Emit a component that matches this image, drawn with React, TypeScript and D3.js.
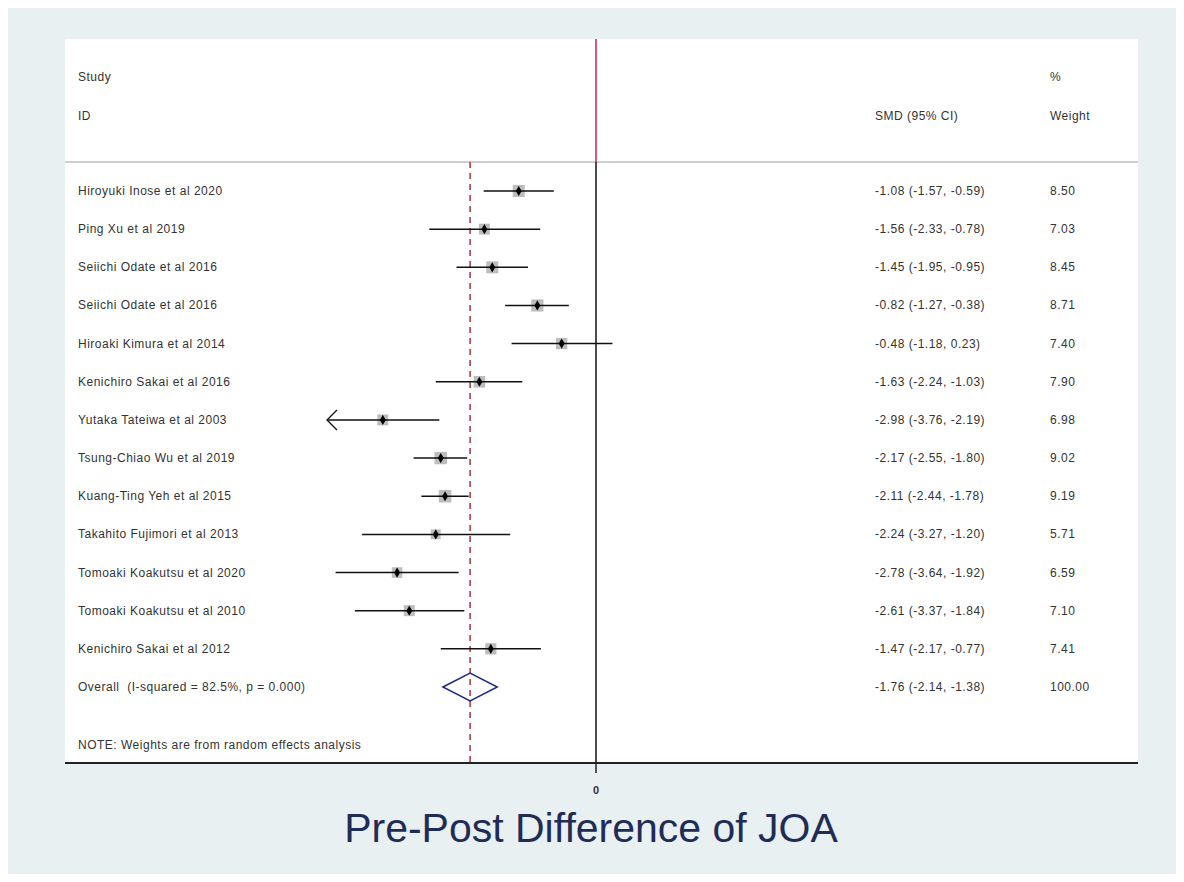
import * as d3 from "d3";
import { useEffect, useRef } from "react";

// study rows
const studies = [
  "Hiroyuki Inose et al 2020",
  "Ping Xu et al 2019",
  "Seiichi Odate et al 2016",
  "Seiichi Odate et al 2016",
  "Hiroaki Kimura et al 2014",
  "Kenichiro Sakai et al 2016",
  "Yutaka Tateiwa et al 2003",
  "Tsung-Chiao Wu et al 2019",
  "Kuang-Ting Yeh et al 2015",
  "Takahito Fujimori et al 2013",
  "Tomoaki Koakutsu et al 2020",
  "Tomoaki Koakutsu et al 2010",
  "Kenichiro Sakai et al 2012",
];
const smd = [-1.08, -1.56, -1.45, -0.82, -0.48, -1.63, -2.98, -2.17, -2.11, -2.24, -2.78, -2.61, -1.47];
const lower = [-1.57, -2.33, -1.95, -1.27, -1.18, -2.24, -3.76, -2.55, -2.44, -3.27, -3.64, -3.37, -2.17];
const upper = [-0.59, -0.78, -0.95, -0.38, 0.23, -1.03, -2.19, -1.8, -1.78, -1.2, -1.92, -1.84, -0.77];
const weights = [8.5, 7.03, 8.45, 8.71, 7.4, 7.9, 6.98, 9.02, 9.19, 5.71, 6.59, 7.1, 7.41];

const overallLabel = "Overall  (I-squared = 82.5%, p = 0.000)";
const overall = { est: -1.76, lo: -2.14, hi: -1.38, weight: "100.00" };
const xTicks = [0];
const xDomain = [-3.76, 3.76];

// plain hyphen minus, like Stata
const fmt = (v) => v.toFixed(2);

const App = () => {
  const svgRef = useRef(null);

  useEffect(() => {
    const W = 1168;
    const H = 866;
    const svg = d3.select(svgRef.current).attr("width", W).attr("height", H);
    svg.selectAll("*").remove();

    // page coords (body margin is 8px)
    const root = svg.append("g").attr("transform", "translate(-8,-8)");
    const font = "'Liberation Sans', Arial, sans-serif";
    const txt = "#333";
    const fs = "12px";
    const ls = "0.5px";

    // outer background + plot region
    root.append("rect").attr("x", 8).attr("y", 8).attr("width", 1168).attr("height", 868).attr("fill", "#e8f0f2");
    const plot = { left: 65, right: 1138, top: 39, bottom: 763 };
    root
      .append("rect")
      .attr("x", plot.left)
      .attr("y", plot.top)
      .attr("width", plot.right - plot.left)
      .attr("height", plot.bottom - plot.top)
      .attr("fill", "#fff");

    const x = d3.scaleLinear().domain(xDomain).range([327, 865]);
    const y = d3.scaleLinear().domain([0, studies.length]).range([191, 687]);
    const headerLine = 162;

    const addText = (sel) =>
      sel
        .attr("font-family", font)
        .attr("font-size", fs)
        .attr("letter-spacing", ls)
        .attr("fill", txt);

    // header
    const header = [
      { t: "Study", x: 78, y: 77 },
      { t: "ID", x: 78, y: 116 },
      { t: "SMD (95% CI)", x: 875, y: 116 },
      { t: "%", x: 1050, y: 77 },
      { t: "Weight", x: 1050, y: 116 },
    ];
    addText(
      root
        .selectAll("text.head")
        .data(header)
        .join("text")
        .attr("class", "head")
        .attr("x", (d) => d.x)
        .attr("y", (d) => d.y + 4)
    ).text((d) => d.t);

    root
      .append("line")
      .attr("x1", plot.left)
      .attr("x2", plot.right)
      .attr("y1", headerLine)
      .attr("y2", headerLine)
      .attr("stroke", "#cfcfcf")
      .attr("stroke-width", 2);

    // zero line: red above the header line, black below
    root
      .append("line")
      .attr("x1", x(0))
      .attr("x2", x(0))
      .attr("y1", plot.top)
      .attr("y2", headerLine)
      .attr("stroke", "#d6204a")
      .attr("stroke-width", 1.5);
    root
      .append("line")
      .attr("x1", x(0))
      .attr("x2", x(0))
      .attr("y1", headerLine)
      .attr("y2", plot.bottom)
      .attr("stroke", "#111")
      .attr("stroke-width", 1.5);

    // overall dashed line
    root
      .append("line")
      .attr("x1", x(overall.est))
      .attr("x2", x(overall.est))
      .attr("y1", headerLine)
      .attr("y2", plot.bottom)
      .attr("stroke", "#a83240")
      .attr("stroke-width", 1.5)
      .attr("stroke-dasharray", "6,5");

    const rows = studies.map((s, i) => ({
      s,
      i,
      est: smd[i],
      lo: lower[i],
      hi: upper[i],
      w: weights[i],
    }));

    // study labels and stats
    const label = (cls, fx, ft) =>
      addText(
        root
          .selectAll("text." + cls)
          .data(rows)
          .join("text")
          .attr("class", cls)
          .attr("x", fx)
          .attr("y", (d) => y(d.i) + 4)
      ).text(ft);
    label("name", 78, (d) => d.s);
    label("ci", 875, (d) => `${fmt(d.est)} (${fmt(d.lo)}, ${fmt(d.hi)})`);
    label("wt", 1050, (d) => fmt(d.w));

    // weight boxes
    const boxSide = (w) => 4.12 * Math.sqrt(w);
    root
      .selectAll("rect.box")
      .data(rows)
      .join("rect")
      .attr("class", "box")
      .attr("x", (d) => x(d.est) - boxSide(d.w) / 2)
      .attr("y", (d) => y(d.i) - boxSide(d.w) / 2)
      .attr("width", (d) => boxSide(d.w))
      .attr("height", (d) => boxSide(d.w))
      .attr("fill", "#bdbdbd");

    // CI lines
    root
      .selectAll("line.ci")
      .data(rows)
      .join("line")
      .attr("class", "ci")
      .attr("x1", (d) => x(Math.max(d.lo, xDomain[0])))
      .attr("x2", (d) => x(d.hi))
      .attr("y1", (d) => y(d.i))
      .attr("y2", (d) => y(d.i))
      .attr("stroke", "#111")
      .attr("stroke-width", 1.5);

    // arrows where CI reaches the axis limit
    root
      .selectAll("path.arrow")
      .data(rows.filter((d) => d.lo <= xDomain[0]))
      .join("path")
      .attr("class", "arrow")
      .attr("d", (d) => {
        const x0 = x(xDomain[0]);
        const yy = y(d.i);
        return `M${x0 + 10},${yy - 10}L${x0},${yy}L${x0 + 10},${yy + 10}`;
      })
      .attr("fill", "none")
      .attr("stroke", "#111")
      .attr("stroke-width", 1.3);

    // point estimates
    root
      .selectAll("path.pt")
      .data(rows)
      .join("path")
      .attr("class", "pt")
      .attr("d", d3.symbol(d3.symbolDiamond, 30))
      .attr("transform", (d) => `translate(${x(d.est)},${y(d.i)})`)
      .attr("fill", "#000");

    // overall row
    const oy = y(studies.length);
    root
      .append("path")
      .attr(
        "d",
        `M${x(overall.lo)},${oy}L${x(overall.est)},${oy - 14}L${x(overall.hi)},${oy}L${x(overall.est)},${oy + 14}Z`
      )
      .attr("fill", "none")
      .attr("stroke", "#1f2a80")
      .attr("stroke-width", 1.5);
    const oText = [
      { t: overallLabel, x: 78 },
      { t: `${fmt(overall.est)} (${fmt(overall.lo)}, ${fmt(overall.hi)})`, x: 875 },
      { t: overall.weight, x: 1050 },
    ];
    addText(
      root
        .selectAll("text.overall")
        .data(oText)
        .join("text")
        .attr("class", "overall")
        .attr("x", (d) => d.x)
        .attr("y", oy + 4)
        .style("white-space", "pre")
    ).text((d) => d.t);

    addText(root.append("text").attr("x", 78).attr("y", 749)).text(
      "NOTE: Weights are from random effects analysis"
    );

    // x axis
    root
      .append("line")
      .attr("x1", plot.left)
      .attr("x2", plot.right)
      .attr("y1", plot.bottom)
      .attr("y2", plot.bottom)
      .attr("stroke", "#222")
      .attr("stroke-width", 2);
    root
      .selectAll("line.tick")
      .data(xTicks)
      .join("line")
      .attr("class", "tick")
      .attr("x1", (d) => x(d))
      .attr("x2", (d) => x(d))
      .attr("y1", plot.bottom)
      .attr("y2", plot.bottom + 10)
      .attr("stroke", "#222")
      .attr("stroke-width", 1.5);
    root
      .selectAll("text.tick")
      .data(xTicks)
      .join("text")
      .attr("class", "tick")
      .attr("x", (d) => x(d))
      .attr("y", 794)
      .attr("text-anchor", "middle")
      .attr("font-family", font)
      .attr("font-size", "11px")
      .attr("font-weight", "bold")
      .attr("fill", txt)
      .text((d) => d);

    // title
    root
      .append("text")
      .attr("x", 591)
      .attr("y", 842)
      .attr("text-anchor", "middle")
      .attr("font-family", font)
      .attr("font-size", "41px")
      .attr("fill", "#1f2d56")
      .text("Pre-Post Difference of JOA");
  }, []);

  return <svg ref={svgRef} style={{ display: "block" }}></svg>;
};

export default App;
